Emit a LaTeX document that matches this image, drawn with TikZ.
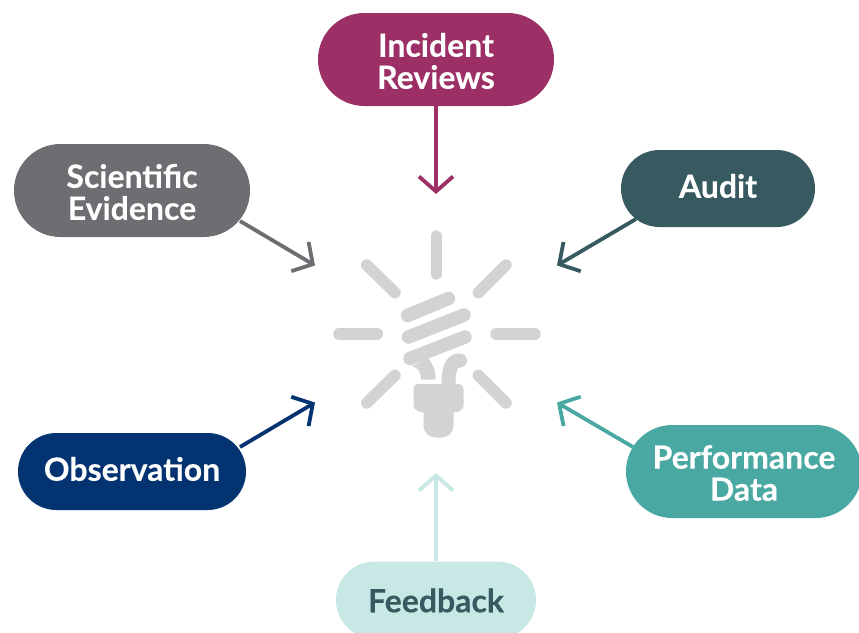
\documentclass[tikz,border=0pt]{standalone}
\usepackage{fontspec}
\setmainfont{Lato}[UprightFont=* Bold,BoldFont=* Bold,UprightFeatures={FakeBold=0.25}]
\usetikzlibrary{arrows.meta}
\definecolor{cInc}{HTML}{9C2F65}
\definecolor{cSci}{HTML}{6D6E71}
\definecolor{cAud}{HTML}{365A60}
\definecolor{cObs}{HTML}{043371}
\definecolor{cPer}{HTML}{4AA8A2}
\definecolor{cFee}{HTML}{C8E8E5}
\definecolor{cBulb}{HTML}{D1D3D4}
\newcommand\lineat[2]{\raisebox{#1}[\height][\depth]{#2}}
\tikzset{
  pill/.style={rectangle,fill=#1,text=white,inner sep=0pt,align=center,
    font=\fontsize{32}{32}\selectfont},
  link/.style={draw=#1,line width=3.8pt,-{Straight Barb[length=15pt,width=34pt,line width=3.8pt]}},
  ray/.style={cBulb,line width=11.5pt,line cap=round},
  coil/.style={cBulb,line width=13.5pt,line cap=round},
}
\begin{document}
\begin{tikzpicture}[x=1pt,y=-1pt]
\useasboundingbox (0,0) rectangle (859,632);
\clip (0,0) rectangle (859,632);
% bulb
\draw[ray] (436.3,236)--(436.3,274);
\draw[ray] (366.7,265)--(395,292.7);
\draw[ray] (506,265)--(478.3,292.7);
\draw[ray] (339,334)--(377.3,334);
\draw[ray] (496,334)--(535,334);
\draw[ray] (395,375.3)--(366.7,403);
\draw[ray] (478.3,375.3)--(506,403);
\draw[coil] (407.5,315.5)--(448.5,298.5);
\draw[coil] (408.5,337)--(464,315);
\draw[coil] (410,358.5)--(465,337);
\fill[cBulb] (412,366) .. controls (418,368) and (421,372) .. (421,379.5) -- (435.7,379.5) .. controls (435.7,371) and (433,364) .. (428,358) -- cycle;
\draw[cBulb,line width=14pt] (460,360.5) ..controls (452,360) and (448.5,368) .. (448.5,384);
\fill[cBulb] (460,360.5) circle (7pt);
\fill[cBulb] (419,384) -- (459,384) .. controls (462,384) and (463.5,386) .. (463.5,389) -- (463.5,405) .. controls (463.5,410) and (459,412) .. (453.5,412.5) -- (453.5,425) .. controls (453.5,433) and (448,437.5) .. (441,437.5) -- (436,437.5) .. controls (429,437.5) and (423.5,433) .. (423.5,425) -- (423.5,412.5) .. controls (418,412) and (413.5,410) .. (413.5,405) -- (413.5,389) .. controls (413.5,386) and (415,384) .. (419,384) -- cycle;
% pills
\node[pill=cInc,minimum width=236pt,minimum height=93pt,rounded corners=46.4pt] (inc) at (436,59.5) {\lineat{-1.5pt}{Incident}\\\lineat{-1.5pt}{Reviews}};
\node[pill=cSci,minimum width=236pt,minimum height=93pt,rounded corners=46.4pt] (sci) at (132,190.5) {\lineat{-1.5pt}{Scientific}\\\lineat{-1.5pt}{Evidence}};
\node[pill=cAud,minimum width=194pt,minimum height=77pt,rounded corners=38.4pt] (aud) at (718,188.5) {\lineat{2.5pt}{Audit}};
\node[pill=cObs,minimum width=228pt,minimum height=77pt,rounded corners=38.4pt] (obs) at (132,471.5) {\lineat{2.5pt}{Observation}};
\node[pill=cPer,minimum width=236pt,minimum height=93pt,rounded corners=46.4pt] (per) at (744,471.5) {\lineat{-1.5pt}{Performance}\\\lineat{-1.5pt}{Data}};
\node[pill=cFee,text=cAud,minimum width=200pt,minimum height=77pt,rounded corners=38.4pt] (fee) at (436,600) {\lineat{-0.5pt}{Feedback}};
% arrow targets
\coordinate (tInc) at (436,194);
\coordinate (tSci) at (315,265.5);
\coordinate (tAud) at (557,265.5);
\coordinate (tObs) at (315,402.5);
\coordinate (tPer) at (557,402.5);
\coordinate (tFee) at (436,473);
\draw[link=cInc] (inc.south) -- (tInc);
\draw[link=cSci] ([shift={(108,30.5)}]sci.center) -- (tSci);
\draw[link=cAud] ([shift={(-82,30.5)}]aud.center) -- (tAud);
\draw[link=cObs] ([shift={(108,-24.5)}]obs.center) -- (tObs);
\draw[link=cPer] ([shift={(-111,-24.5)}]per.center) -- (tPer);
\draw[link=cFee] (fee.north) -- (tFee);
\end{tikzpicture}
\end{document}
